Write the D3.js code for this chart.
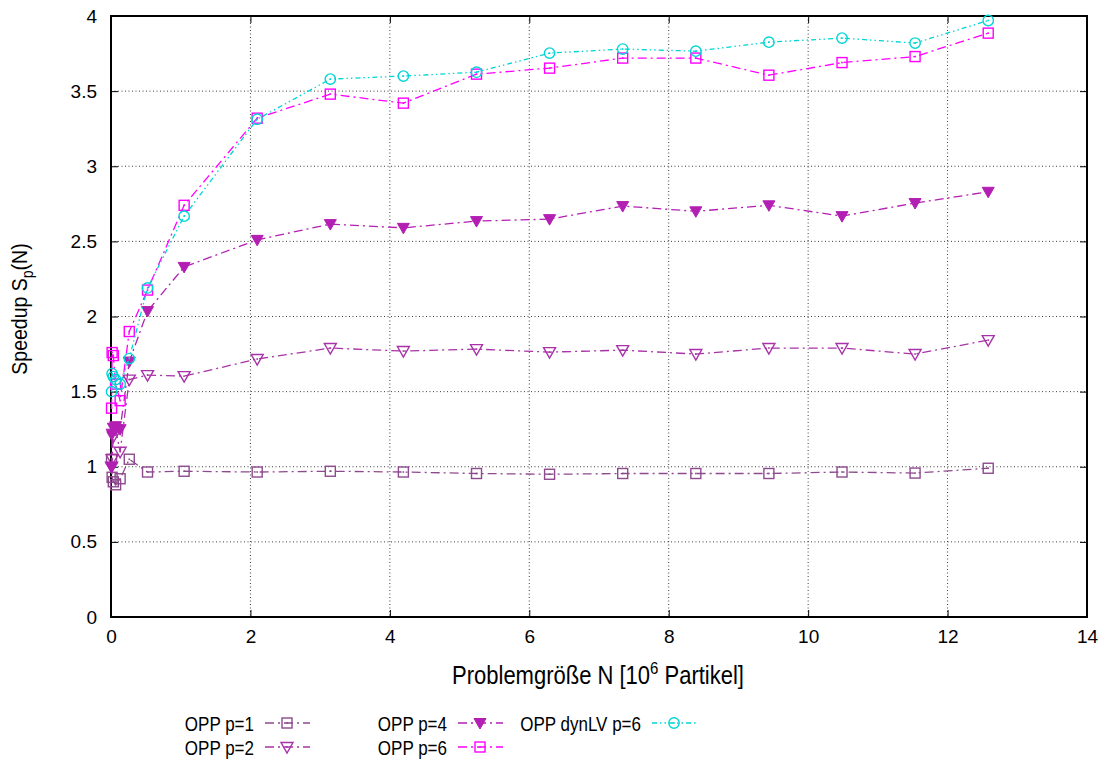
<!DOCTYPE html>
<html>
<head>
<meta charset="utf-8">
<script src="https://cdn.jsdelivr.net/npm/d3@7"></script>
<style>
  html, body { margin: 0; padding: 0; background: #fff; }
  svg text { font-family: "Liberation Sans", Arial, Helvetica, sans-serif; }
</style>
</head>
<body>
<svg id="chart" width="1102" height="767"></svg>
<script>
// Problem size N in units of 10^6 particles
const problemSizes = [0.008, 0.016, 0.033, 0.066, 0.131, 0.262, 0.524, 1.049, 2.097, 3.146, 4.194,
  5.243, 6.291, 7.340, 8.389, 9.437, 10.486, 11.534, 12.583];

// Measured speedups S_p(N) for each configuration
const speedupP1 = [1.05, 0.93, 0.90, 0.88, 0.92, 1.05, 0.965, 0.97, 0.965, 0.97, 0.965,
  0.955, 0.95, 0.955, 0.955, 0.955, 0.965, 0.958, 0.99];
const speedupP2 = [1.00, 1.05, 1.20, 1.25, 1.10, 1.58, 1.61, 1.603, 1.717, 1.79, 1.77,
  1.783, 1.763, 1.776, 1.75, 1.79, 1.79, 1.75, 1.843];
const speedupP4 = [1.00, 1.22, 1.26, 1.27, 1.25, 1.70, 2.036, 2.33, 2.51, 2.615, 2.59,
  2.635, 2.648, 2.735, 2.70, 2.74, 2.668, 2.755, 2.83];
const speedupP6 = [1.39, 1.76, 1.74, 1.55, 1.44, 1.90, 2.176, 2.74, 3.32, 3.48, 3.42,
  3.613, 3.653, 3.72, 3.72, 3.606, 3.69, 3.73, 3.886];
const speedupDynLV = [1.50, 1.62, 1.60, 1.58, 1.55, 1.72, 2.19, 2.668, 3.313, 3.58, 3.60,
  3.626, 3.753, 3.78, 3.766, 3.826, 3.853, 3.82, 3.97];

const xTicks = [0, 2, 4, 6, 8, 10, 12, 14];
const yTicks = [0, 0.5, 1, 1.5, 2, 2.5, 3, 3.5, 4];

const seriesNames = ["OPP p=1", "OPP p=2", "OPP p=4", "OPP p=6", "OPP dynLV p=6"];

const series = [
  { name: seriesNames[0], values: speedupP1, color: "#8e4a8e", marker: "squareDot", dash: "9,4,2,4" },
  { name: seriesNames[1], values: speedupP2, color: "#a832a8", marker: "triOpen", dash: "9,4,2,4" },
  { name: seriesNames[2], values: speedupP4, color: "#b31fb3", marker: "triFilled", dash: "9,4,2,4" },
  { name: seriesNames[3], values: speedupP6, color: "#ff00ff", marker: "squareDot", dash: "9,4,2,4" },
  { name: seriesNames[4], values: speedupDynLV, color: "#00d5d5", marker: "circleDot", dash: "5,3,1.5,3,1.5,3" }
];

const svg = d3.select("#chart");
const margin = { left: 111, right: 1087, top: 16, bottom: 617 };
const textStretch = 1.13;   // glyphs are drawn slightly taller than wide
const legendStretch = 1.22;

const x = d3.scaleLinear().domain([0, 14]).range([margin.left, margin.right]);
const y = d3.scaleLinear().domain([0, 4]).range([margin.bottom, margin.top]);

// Grid lines
const grid = svg.append("g");
grid.selectAll("line.gx").data(xTicks.slice(1, -1)).join("line")
  .attr("x1", d => x(d)).attr("x2", d => x(d))
  .attr("y1", margin.top).attr("y2", margin.bottom)
  .attr("stroke", "#000").attr("stroke-width", 1).attr("stroke-dasharray", "1,2.5")
  .attr("opacity", 0.75);
grid.selectAll("line.gy").data(yTicks.slice(1, -1)).join("line")
  .attr("y1", d => y(d)).attr("y2", d => y(d))
  .attr("x1", margin.left).attr("x2", margin.right)
  .attr("stroke", "#000").attr("stroke-width", 1).attr("stroke-dasharray", "1,2.5")
  .attr("opacity", 0.75);

// Axes with inward ticks, mirrored on top and right
const tickLen = 7;
const axisBottom = d3.axisBottom(x).tickValues(xTicks).tickSizeInner(-tickLen).tickSizeOuter(0).tickPadding(13).tickFormat(d3.format("d"));
const axisLeft = d3.axisLeft(y).tickValues(yTicks).tickSizeInner(-tickLen).tickSizeOuter(0).tickPadding(14).tickFormat(d => d);
const axisTop = d3.axisTop(x).tickValues(xTicks).tickSizeInner(-tickLen).tickSizeOuter(0).tickFormat("");
const axisRight = d3.axisRight(y).tickValues(yTicks).tickSizeInner(-tickLen).tickSizeOuter(0).tickFormat("");

function styleAxis(g) {
  g.select(".domain").remove();
  g.selectAll(".tick line").attr("stroke", "#000").attr("stroke-width", 1);
  g.selectAll(".tick text").attr("fill", "#000").attr("font-size", 19)
    .style("font-family", "'Liberation Sans', Arial, sans-serif");
}
svg.append("g").attr("transform", `translate(0,${margin.bottom})`).call(axisBottom).call(styleAxis);
svg.append("g").attr("transform", `translate(${margin.left},0)`).call(axisLeft).call(styleAxis);
svg.append("g").attr("transform", `translate(0,${margin.top})`).call(axisTop).call(styleAxis);
svg.append("g").attr("transform", `translate(${margin.right},0)`).call(axisRight).call(styleAxis);

// Plot frame
svg.append("rect")
  .attr("x", margin.left).attr("y", margin.top)
  .attr("width", margin.right - margin.left).attr("height", margin.bottom - margin.top)
  .attr("fill", "none").attr("stroke", "#000").attr("stroke-width", 2);

// Axis titles
const xTitle = svg.append("text")
  .attr("transform", `translate(${x(7) - 1},684) scale(1,${textStretch})`)
  .attr("text-anchor", "middle").attr("font-size", 22);
xTitle.append("tspan").text("Problemgröße N [10");
xTitle.append("tspan").attr("font-size", 15).attr("dy", -9).text("6");
xTitle.append("tspan").attr("dy", 9).text(" Partikel]");

const yTitle = svg.append("text")
  .attr("transform", `translate(27,309) rotate(-90) scale(1,${textStretch})`)
  .attr("text-anchor", "middle").attr("font-size", 19.5);
yTitle.append("tspan").text("Speedup S");
yTitle.append("tspan").attr("font-size", 14).attr("dy", 5).text("p");
yTitle.append("tspan").attr("dy", -5).text("(N)");

// Marker drawing
function drawMarker(g, type, color) {
  if (type === "squareDot") {
    g.append("rect").attr("x", -5).attr("y", -5).attr("width", 10).attr("height", 10)
      .attr("fill", "none").attr("stroke", color).attr("stroke-width", 1.4);
    g.append("rect").attr("x", -0.8).attr("y", -0.8).attr("width", 1.6).attr("height", 1.6).attr("fill", color);
  } else if (type === "triOpen") {
    g.append("path").attr("d", "M-6,-4.5L6,-4.5L0,6Z")
      .attr("fill", "none").attr("stroke", color).attr("stroke-width", 1.4);
    g.append("rect").attr("x", -0.8).attr("y", -0.8).attr("width", 1.6).attr("height", 1.6).attr("fill", color);
  } else if (type === "triFilled") {
    g.append("path").attr("d", "M-6,-4.5L6,-4.5L0,6Z")
      .attr("fill", color).attr("stroke", color).attr("stroke-width", 1);
  } else if (type === "circleDot") {
    g.append("circle").attr("r", 5.2).attr("fill", "none").attr("stroke", color).attr("stroke-width", 1.4);
    g.append("rect").attr("x", -0.8).attr("y", -0.8).attr("width", 1.6).attr("height", 1.6).attr("fill", color);
  }
}

const line = d3.line().x(d => x(d[0])).y(d => y(d[1]));

const plot = svg.append("g");
series.forEach(s => {
  const pts = problemSizes.map((n, i) => [n, s.values[i]]);
  plot.append("path").datum(pts)
    .attr("d", line).attr("fill", "none")
    .attr("stroke", s.color).attr("stroke-width", 1.3)
    .attr("stroke-dasharray", s.dash);
  plot.append("g").selectAll("g").data(pts).join("g")
    .attr("transform", d => `translate(${x(d[0])},${y(d[1])})`)
    .each(function () { drawMarker(d3.select(this), s.marker, s.color); });
});

// Legend: three columns, two rows
const legendPos = [
  { tx: 254, y: 723 }, { tx: 254, y: 747 },
  { tx: 447, y: 723 }, { tx: 447, y: 747 },
  { tx: 641, y: 723 }
];
const legend = svg.append("g");
series.forEach((s, i) => {
  const p = legendPos[i];
  legend.append("text")
    .attr("transform", `translate(${p.tx},${p.y + 8}) scale(1,${legendStretch})`)
    .attr("text-anchor", "end").attr("font-size", 17).text(s.name);
  legend.append("line")
    .attr("x1", p.tx + 11).attr("x2", p.tx + 56)
    .attr("y1", p.y).attr("y2", p.y)
    .attr("stroke", s.color).attr("stroke-width", 1.3).attr("stroke-dasharray", s.dash);
  const m = legend.append("g").attr("transform", `translate(${p.tx + 33},${p.y})`);
  drawMarker(m, s.marker, s.color);
});
</script>
</body>
</html>
